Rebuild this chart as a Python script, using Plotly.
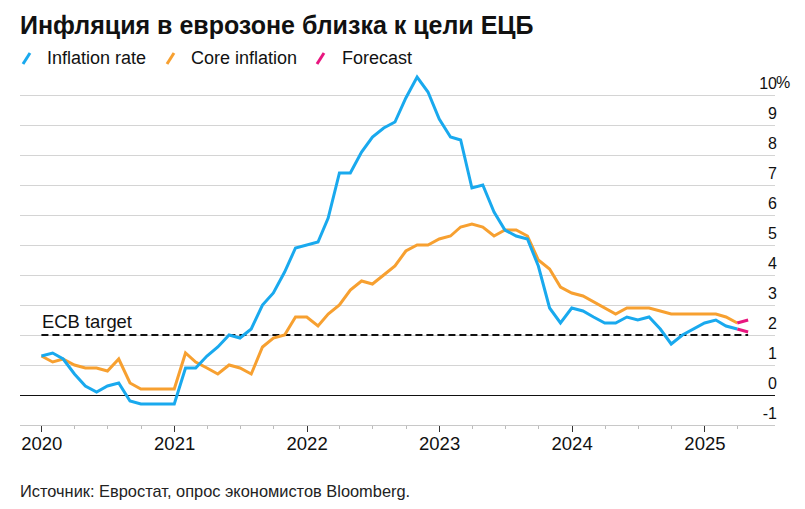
import pandas as pd
import plotly.graph_objects as go

# ---- data (monthly, Dec 2019 .. Mar 2025; y/y %) ----
months = pd.date_range("2019-12-31", "2025-03-31", freq="ME")
inflation_rate = [
    1.3,
    1.4, 1.2, 0.7, 0.3, 0.1, 0.3, 0.4, -0.2, -0.3, -0.3, -0.3, -0.3,
    0.9, 0.9, 1.3, 1.6, 2.0, 1.9, 2.2, 3.0, 3.4, 4.1, 4.9, 5.0,
    5.1, 5.9, 7.4, 7.4, 8.1, 8.6, 8.9, 9.1, 9.9, 10.6, 10.1, 9.2,
    8.6, 8.5, 6.9, 7.0, 6.1, 5.5, 5.3, 5.2, 4.3, 2.9, 2.4, 2.9,
    2.8, 2.6, 2.4, 2.4, 2.6, 2.5, 2.6, 2.2, 1.7, 2.0, 2.2, 2.4,
    2.5, 2.3, 2.2,
]
core_inflation = [
    1.3,
    1.1, 1.2, 1.0, 0.9, 0.9, 0.8, 1.2, 0.4, 0.2, 0.2, 0.2, 0.2,
    1.4, 1.1, 0.9, 0.7, 1.0, 0.9, 0.7, 1.6, 1.9, 2.0, 2.6, 2.6,
    2.3, 2.7, 3.0, 3.5, 3.8, 3.7, 4.0, 4.3, 4.8, 5.0, 5.0, 5.2,
    5.3, 5.6, 5.7, 5.6, 5.3, 5.5, 5.5, 5.3, 4.5, 4.2, 3.6, 3.4,
    3.3, 3.1, 2.9, 2.7, 2.9, 2.9, 2.9, 2.8, 2.7, 2.7, 2.7, 2.7,
    2.7, 2.6, 2.4,
]
forecast_dates = ["2025-03-31", "2025-04-30"]
forecast_headline = [2.2, 2.1]
forecast_core = [2.4, 2.5]
ecb_target = 2.0
ecb_dates = ["2019-12-31", "2025-04-30"]

y_ticks = [-1, 0, 1, 2, 3, 4, 5, 6, 7, 8, 9, 10]
y_ticktext = [str(v) for v in y_ticks]

title_text = "Инфляция в еврозоне близка к цели ЕЦБ"
source_text = "Источник: Евростат, опрос экономистов Bloomberg."
legend_items = [("Inflation rate", "#19A9EE"), ("Core inflation", "#F7A030"), ("Forecast", "#E8167F")]

BLUE, ORANGE, PINK = "#19A9EE", "#F7A030", "#E8167F"
FONT = "Liberation Sans, Arial, sans-serif"

W, H = 805, 509
L, R, T, B = 20, 30, 65, 84
PW, PH = W - L - R, H - T - B


def px(x):
    return (x - L) / PW


def py(y):
    return (H - B - y) / PH


fig = go.Figure()
fig.add_trace(go.Scatter(x=ecb_dates, y=[ecb_target, ecb_target], mode="lines",
                         line=dict(color="#111111", width=2.2, dash="7px,4px"),
                         hoverinfo="skip", showlegend=False))
fig.add_trace(go.Scatter(x=months, y=core_inflation, mode="lines",
                         line=dict(color=ORANGE, width=3), name="Core inflation", showlegend=False))
fig.add_trace(go.Scatter(x=forecast_dates, y=forecast_core, mode="lines",
                         line=dict(color=PINK, width=3), name="Forecast", showlegend=False))
fig.add_trace(go.Scatter(x=forecast_dates, y=forecast_headline, mode="lines",
                         line=dict(color=PINK, width=3), name="Forecast", showlegend=False))
fig.add_trace(go.Scatter(x=months, y=inflation_rate, mode="lines",
                         line=dict(color=BLUE, width=3), name="Inflation rate", showlegend=False))

annotations = [
    dict(text=f"<b>{title_text}</b>", x=px(18), y=py(25), xref="paper", yref="paper",
         xanchor="left", yanchor="middle", showarrow=False,
         font=dict(family=FONT, size=25, color="#111111")),
    dict(text=source_text, x=px(18), y=py(491), xref="paper", yref="paper",
         xanchor="left", yanchor="middle", showarrow=False,
         font=dict(family=FONT, size=16.4, color="#222222")),
    dict(text="ECB target", x=ecb_dates[0], y=ecb_target, xref="x", yref="y",
         xanchor="left", yanchor="bottom", yshift=1, xshift=-1, showarrow=False,
         font=dict(family=FONT, size=18.4, color="#111111")),
    dict(text="%", x=px(775), y=10, xref="paper", yref="y",
         xanchor="left", yanchor="bottom", yshift=2, xshift=-1, showarrow=False,
         font=dict(family=FONT, size=16, color="#111111")),
]

shapes = []
legend_x = [(22, 46), (166, 190), (316, 341)]
for (label, color), (ix, tx) in zip(legend_items, legend_x):
    shapes.append(dict(type="line", xref="paper", yref="paper",
                       x0=px(ix + 1), y0=py(64), x1=px(ix + 8), y1=py(53),
                       line=dict(color=color, width=3)))
    annotations.append(dict(text=label, x=px(tx - 1), y=py(58), xref="paper", yref="paper",
                            xanchor="left", yanchor="middle", showarrow=False,
                            font=dict(family=FONT, size=18, color="#111111")))

fig.update_layout(
    width=W, height=H,
    margin=dict(l=L, r=R, t=T, b=B),
    paper_bgcolor="white", plot_bgcolor="white",
    showlegend=False,
    annotations=annotations,
    shapes=shapes,
    xaxis=dict(
        type="date",
        range=["2019-11-02", "2025-07-13"],
        tick0="2020-01-01", dtick="M12", tickformat="%Y",
        ticks="outside", ticklen=6, tickwidth=1.2, tickcolor="#333333",
        showgrid=False, showline=True, linecolor="#c8c8c8", linewidth=1,
        tickfont=dict(family=FONT, size=18.5, color="#111111"),
        ticklabelstandoff=-4,
        minor=dict(dtick="M3", tick0="2020-01-01", ticks="outside", ticklen=3,
                   tickcolor="#bbbbbb", showgrid=False),
        zeroline=False,
    ),
    yaxis=dict(
        range=[-1, 11], side="right",
        tickvals=y_ticks, ticktext=y_ticktext,
        ticklabelposition="inside top",
        ticklabelstandoff=-5,
        showgrid=True, gridcolor="#d4d4d4", gridwidth=1,
        zeroline=True, zerolinecolor="#111111", zerolinewidth=1.3,
        showline=False, ticks="",
        tickfont=dict(family=FONT, size=16, color="#111111"),
    ),
)

fig.write_html("out.html", config={"displayModeBar": False},
               post_script="document.body.style.margin='0px';")
